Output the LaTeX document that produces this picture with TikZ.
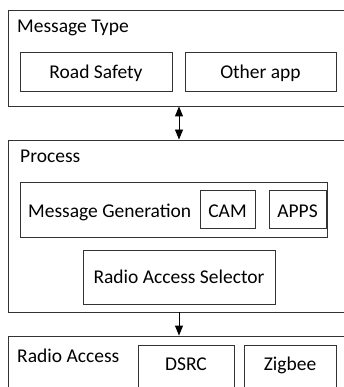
\documentclass[tikz,border=0pt]{standalone}
\usepackage{fontspec}
\setmainfont{Carlito}
\usetikzlibrary{arrows.meta}
\begin{document}
\begin{tikzpicture}[x=1pt,y=-1pt,
  box/.style={draw=black!80, line width=0.9pt, rectangle, inner sep=0pt, fill=white},
  txt/.style={anchor=base, inner sep=0pt, font=\fontsize{19.5}{23}\selectfont, text=black},
  ltxt/.style={anchor=base west, inner sep=0pt, font=\fontsize{19.5}{23}\selectfont, text=black},
  conn/.style={draw=black, line width=0.9pt, arrows={-Triangle[length=10pt,width=8pt]}}]
\useasboundingbox (0,0) rectangle (344,387);
% outer boxes
\node[box, minimum width=342pt, minimum height=96pt] (mt) at (179,58) {};
\node[box, minimum width=342pt, minimum height=172pt] (proc) at (179,226) {};
\node[box, minimum width=342pt, minimum height=60pt] (ra) at (179,366) {};
% Message Type
\node[ltxt] (mtt) at (17,33) {Message Type};
\node[box, minimum width=152pt, minimum height=39pt] (rs) at (96,71.5) {};
\node[txt] (rst) at (96,78.5) {Road Safety};
\node[box, minimum width=151pt, minimum height=39pt] (oa) at (260.5,71.5) {};
\node[txt] (oat) at (260.5,78.5) {Other app};
% Process
\node[ltxt] (proct) at (20,162.5) {Process};
\node[box, minimum width=307pt, minimum height=55pt] (mg) at (173.5,209.5) {};
\node[ltxt] (mgt) at (28,217.5) {Message Generation};
\node[box, minimum width=55pt, minimum height=38pt] (cam) at (227.5,209) {};
\node[txt] (camt) at (227.5,217.5) {CAM};
\node[box, minimum width=57pt, minimum height=38pt] (apps) at (297.5,209) {};
\node[txt] (appst) at (297.5,217.5) {APPS};
\node[box, minimum width=192pt, minimum height=54pt] (ras) at (179,277) {};
\node[txt] (rast) at (179,283.5) {Radio Access Selector};
% Radio Access
\node[ltxt] (rat) at (17,362.5) {Radio Access};
\node[box, minimum width=96pt, minimum height=50pt] (dsrc) at (186,370) {};
\node[txt] (dsrct) at (186,370.5) {DSRC};
\node[box, minimum width=92pt, minimum height=50pt] (zig) at (290,370) {};
\node[txt] (zigt) at (290,370.5) {Zigbee};
% connectors
\coordinate (ax) at (179,0);
\draw[conn, arrows={Triangle[length=10pt,width=8pt]-Triangle[length=10pt,width=8pt]}] (mt.south -| ax) -- (proc.north -| ax);
\draw[conn] (proc.south -| ax) -- (ra.north -| ax);
\end{tikzpicture}
\end{document}
